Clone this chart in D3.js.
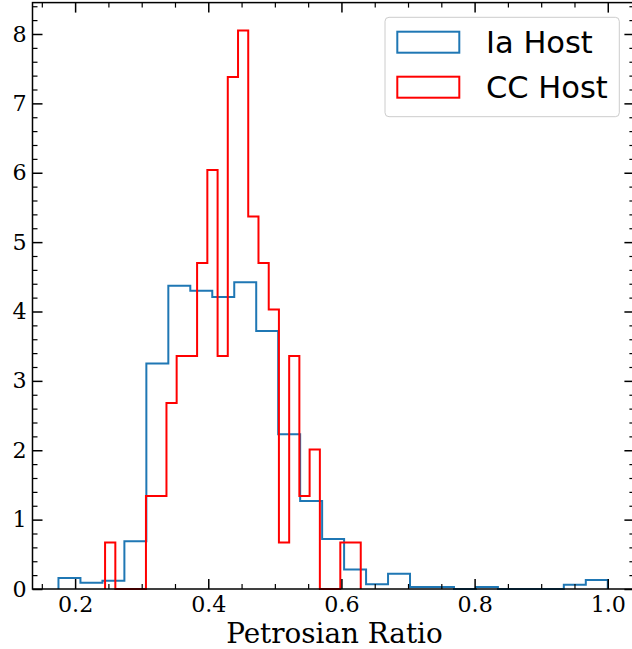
<!DOCTYPE html>
<html>
<head>
<meta charset="utf-8">
<script src="https://cdn.jsdelivr.net/npm/d3@7"></script>
<style>
  body { margin: 0; background: #fff; }
  svg { display: block; }
</style>
</head>
<body>
<svg id="chart" width="632" height="649"></svg>
<script>
// histogram bin edges and densities
var ia_edges = [0.175, 0.208, 0.241, 0.274, 0.307, 0.340, 0.373, 0.406, 0.439, 0.472, 0.505, 0.538, 0.571,
    0.604, 0.637, 0.670, 0.703, 0.736, 0.769, 0.802, 0.835, 0.868, 0.901, 0.934, 0.967, 1.000]
var ia_density = [0.16, 0.09, 0.12, 0.69, 3.25, 4.37, 4.30, 4.21, 4.42, 3.72, 2.23, 1.27, 0.72,
    0.28, 0.07, 0.22, 0.03, 0.03, 0, 0.03, 0, 0, 0, 0.06, 0.13]

var cc_edges = [0.2450, 0.2604, 0.2757, 0.2911, 0.3064, 0.3218, 0.3372, 0.3525, 0.3679, 0.3832, 0.3986,
    0.4140, 0.4293, 0.4447, 0.4600, 0.4754, 0.4908, 0.5061, 0.5215, 0.5368, 0.5522, 0.5676, 0.5829,
    0.5983, 0.6136, 0.6290]
var cc_density = [0.67, 0, 0, 0, 1.34, 1.34, 2.68, 3.36, 3.36, 4.70, 6.04, 3.36, 7.38, 8.05, 5.37,
    4.70, 4.03, 0.67, 3.36, 1.34, 2.01, 0, 0, 0.67, 0.67]

var x_ticks = [0.2, 0.4, 0.6, 0.8, 1.0]
var y_ticks = [0, 1, 2, 3, 4, 5, 6, 7, 8]
var series_names = ["Ia Host", "CC Host"]

// plot box (right spine sits just past the window edge, as in the reference)
var ax_left = 32.5, ax_right = 634.4, ax_top = 2.6, ax_bottom = 589

var svg = d3.select("#chart")

var x = d3.scaleLinear().domain([0.136, 1.04]).range([ax_left, ax_right])
var y = d3.scaleLinear().domain([0, 8.4525]).range([ax_bottom, ax_top])

// step outline like matplotlib histtype='step'
function stepPoints(edges, vals) {
    var pts = [[edges[0], 0]]
    for (let i = 0; i < vals.length; i++) {
        pts.push([edges[i], vals[i]])
        pts.push([edges[i + 1], vals[i]])
    }
    pts.push([edges[edges.length - 1], 0])
    return pts
}
var line = d3.line().x(d => x(d[0])).y(d => y(d[1]))

var hists = [
    {name: series_names[0], edges: ia_edges, vals: ia_density, color: "#1f77b4"},
    {name: series_names[1], edges: cc_edges, vals: cc_density, color: "#ff0000"}
]

svg.selectAll("path.hist").data(hists).join("path")
    .attr("class", "hist")
    .attr("d", d => line(stepPoints(d.edges, d.vals)))
    .attr("fill", "none")
    .attr("stroke", d => d.color)
    .attr("stroke-width", 2)
    .attr("stroke-linejoin", "miter")

// minor ticks
var x_minor = d3.range(0.15, 1.04, 0.05).filter(v => Math.abs(Math.round(v * 5) - v * 5) > 1e-6)
var y_minor = d3.range(0, 8.45, 0.2).filter(v => Math.abs(Math.round(v) - v) > 1e-6)

function styleAxis(g) {
    g.select(".domain").remove()
    g.selectAll("line").attr("stroke", "#000")
}

svg.append("g").attr("transform", "translate(0," + ax_bottom + ")")
    .call(d3.axisBottom(x).tickValues(x_minor).tickSize(-5).tickFormat(""))
    .call(styleAxis).selectAll("line").attr("stroke-width", 1.2)
svg.append("g").attr("transform", "translate(0," + ax_top + ")")
    .call(d3.axisTop(x).tickValues(x_minor).tickSize(-5).tickFormat(""))
    .call(styleAxis).selectAll("line").attr("stroke-width", 1.2)
svg.append("g").attr("transform", "translate(" + ax_left + ",0)")
    .call(d3.axisLeft(y).tickValues(y_minor).tickSize(-5).tickFormat(""))
    .call(styleAxis).selectAll("line").attr("stroke-width", 1.2)
svg.append("g").attr("transform", "translate(" + ax_right + ",0)")
    .call(d3.axisRight(y).tickValues(y_minor).tickSize(-5).tickFormat(""))
    .call(styleAxis).selectAll("line").attr("stroke-width", 1.2)

// major ticks
var xb = svg.append("g").attr("transform", "translate(0," + ax_bottom + ")")
    .call(d3.axisBottom(x).tickValues(x_ticks).tickSize(-10).tickPadding(7.5).tickFormat(d3.format(".1f")))
    .call(styleAxis)
xb.selectAll("line").attr("stroke-width", 1.5)
xb.selectAll("text").attr("font-family", "DejaVu Serif").attr("font-size", "22.2px").attr("fill", "#000")

svg.append("g").attr("transform", "translate(0," + ax_top + ")")
    .call(d3.axisTop(x).tickValues(x_ticks).tickSize(-10).tickFormat(""))
    .call(styleAxis).selectAll("line").attr("stroke-width", 1.5)

var yl = svg.append("g").attr("transform", "translate(" + ax_left + ",0)")
    .call(d3.axisLeft(y).tickValues(y_ticks).tickSize(-10).tickPadding(6).tickFormat(d3.format("d")))
    .call(styleAxis)
yl.selectAll("line").attr("stroke-width", 1.5)
yl.selectAll("text").attr("font-family", "DejaVu Serif").attr("font-size", "22.2px").attr("fill", "#000")

svg.append("g").attr("transform", "translate(" + ax_right + ",0)")
    .call(d3.axisRight(y).tickValues(y_ticks).tickSize(-10).tickFormat(""))
    .call(styleAxis).selectAll("line").attr("stroke-width", 1.5)

// spines
svg.append("rect")
    .attr("x", ax_left).attr("y", ax_top)
    .attr("width", ax_right - ax_left).attr("height", ax_bottom - ax_top)
    .attr("fill", "none").attr("stroke", "#000").attr("stroke-width", 1.5)

// x label
svg.append("text")
    .attr("x", (ax_left + ax_right) / 2 + 1).attr("y", 643)
    .attr("text-anchor", "middle")
    .attr("font-family", "DejaVu Serif").attr("font-size", "27.8px")
    .text("Petrosian Ratio")

// legend
var lg = svg.append("g")
lg.append("rect")
    .attr("x", 385).attr("y", 17.3).attr("width", 234.3).attr("height", 99.4)
    .attr("rx", 4).attr("fill", "#fff").attr("fill-opacity", 0.8)
    .attr("stroke", "#cccccc").attr("stroke-width", 1)

lg.selectAll("rect.handle").data(hists).join("rect")
    .attr("class", "handle")
    .attr("x", 397.3).attr("y", (d, i) => 31.7 + i * 45)
    .attr("width", 62).attr("height", 21)
    .attr("fill", "none").attr("stroke", d => d.color).attr("stroke-width", 2)

lg.selectAll("text").data(hists).join("text")
    .attr("x", 486).attr("y", (d, i) => 53.3 + i * 45)
    .attr("font-family", "DejaVu Sans").attr("font-size", "30.5px")
    .attr("fill", "#000")
    .text(d => d.name)
</script>
</body>
</html>
